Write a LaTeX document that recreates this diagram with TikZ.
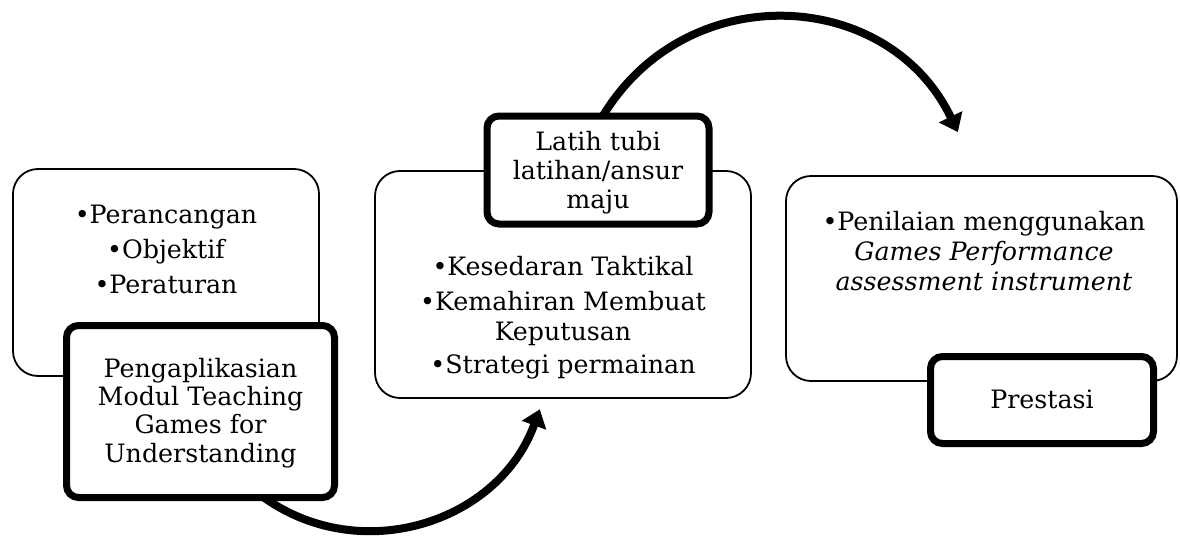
\documentclass[tikz,border=0pt]{standalone}
\usepackage{fontspec}
\setmainfont{DejaVu Serif}
\usetikzlibrary{arrows.meta,calc}
\begin{document}
\begin{tikzpicture}[x=1pt,y=-1pt,
  thinbox/.style={draw=black, line width=1.8pt, rounded corners=25pt, fill=white, inner sep=0pt},
  thickbox/.style={draw=black, line width=7pt, rounded corners=12pt, fill=white, inner sep=0pt},
  txt/.style={align=center, inner sep=0pt, anchor=north},
  fa/.style={font=\fontsize{25.3}{29}\selectfont},
  fb/.style={font=\fontsize{25.3}{28.3}\selectfont},
  fc/.style={font=\fontsize{25.3}{30}\selectfont},
  flow/.style={line width=8pt, -{Triangle[width=25pt,length=17pt]}},
]
\useasboundingbox (0,0) rectangle (1180,538);
% thin boxes
\node[thinbox, minimum width=306pt, minimum height=207pt] (A) at (166,272.5) {};
\node[thinbox, minimum width=376pt, minimum height=227pt] (B) at (563,284.5) {};
\node[thinbox, minimum width=391pt, minimum height=205pt] (C) at (981.5,278.5) {};
% thick box outlines (anchors only)
\node[thickbox, draw=none, fill=none, minimum width=268pt, minimum height=172pt] (A2) at (200.5,411.5) {};
\node[thickbox, draw=none, fill=none, minimum width=222pt, minimum height=108pt] (B2) at (598,170) {};
\node[thickbox, draw=none, fill=none, minimum width=223pt, minimum height=87pt] (C2) at (1042,400) {};
% connectors
\coordinate (t1) at (539.8,409.3);
\coordinate (t2) at (957.9,132.1);
\draw[flow] ($(A2.south west)!0.733!(A2.south east)+(0,-3)$) .. controls (362.2,566.7) and (498.7,522.3) .. (t1);
\draw[flow] ($(B2.north west)!0.5225!(B2.north east)+(0,3)$) .. controls (687.2,-23.2) and (888.6,-12.5) .. (t2);
% thick boxes drawn over
\node[thickbox, minimum width=268pt, minimum height=172pt] (A2b) at (A2) {};
\node[thickbox, minimum width=222pt, minimum height=108pt] (B2b) at (B2) {};
\node[thickbox, minimum width=223pt, minimum height=87pt] (C2b) at (C2) {};
% texts
\node[txt, fa] (At) at (166,203.5) {\rule{0pt}{20pt}•Perancangan\\[6pt]•Objektif\\[6pt]•Peraturan};
\node[txt, fb] (A2t) at (200.5,357) {\rule{0pt}{20pt}Pengaplikasian\\Modul Teaching\\Games for\\Understanding};
\node[txt, fa] (B2t) at (598,130) {\rule{0pt}{20pt}Latih tubi\\latihan/ansur\\maju};
\node[txt, fc] (Bt) at (563,255) {\rule{0pt}{20pt}•Kesedaran Taktikal\\[5pt]•Kemahiran Membuat\\Keputusan\\[3pt]•Strategi permainan};
\node[txt, fc] (Ct) at (984,210) {\rule{0pt}{20pt}•Penilaian menggunakan\\\textit{Games Performance}\\\textit{assessment instrument}};
\node[txt, fa] (C2t) at (1042,388) {\rule{0pt}{20pt}Prestasi};
\end{tikzpicture}
\end{document}
